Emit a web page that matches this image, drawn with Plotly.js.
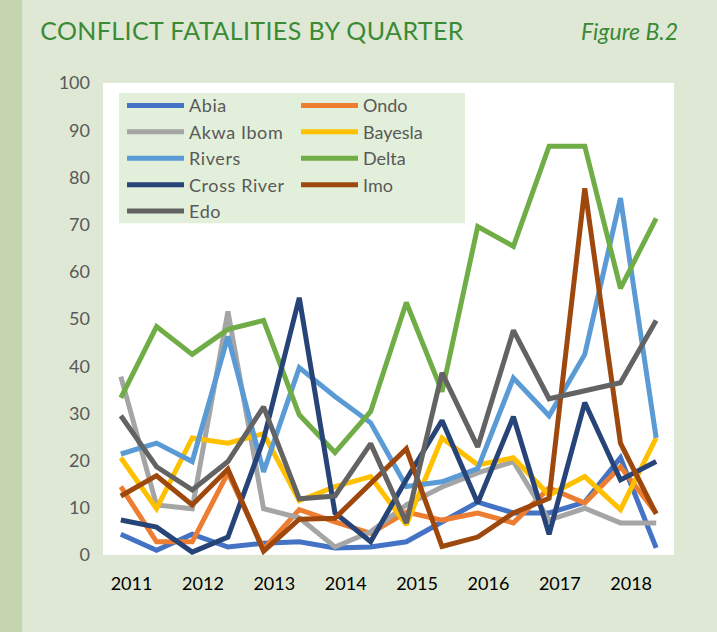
<!DOCTYPE html>
<html>
<head>
<meta charset="utf-8">
<script src="https://cdn.plot.ly/plotly-3.0.1.min.js"></script>
<style>
html,body{margin:0;padding:0;background:#dfe8d5;}
#chart{width:717px;height:632px;}
#chart .legendtext{letter-spacing:0.6px;}
#chart .gtitle{letter-spacing:0.4px;}
</style>
</head>
<body>
<div id="chart"></div>
<script>
// Half-year periods 2011 - 2018 (16 points)
var periods = ["2011a","2011b","2012a","2012b","2013a","2013b","2014a","2014b",
               "2015a","2015b","2016a","2016b","2017a","2017b","2018a","2018b"];
var yearLabels = ["2011","2012","2013","2014","2015","2016","2017","2018"];

var abia      = [4.4, 1, 4.4, 1.7, 2.5, 2.8, 1.5, 1.7, 2.8, 7, 11.2, 8.9, 8.9, 11.2, 20.6, 1.5];
var ondo      = [14.5, 2.8, 2.8, 17.4, 1.3, 9.6, 7, 4.6, 9.1, 7.4, 8.9, 6.8, 14.2, 11, 18.7, 8.9];
var akwaIbom  = [37.8, 10.6, 9.8, 51.6, 9.8, 7.9, 1.7, 4.9, 10.6, 14.4, 17.4, 19.8, 7.4, 9.9, 6.8, 6.8];
var bayesla   = [20.6, 9.8, 24.8, 23.7, 25.7, 11.5, 14.5, 16.6, 6.4, 24.8, 19.1, 20.6, 12.7, 16.6, 9.6, 24.8];
var rivers    = [21.4, 23.7, 19.8, 46.3, 17.6, 39.7, 33.6, 28, 14.5, 15.5, 18.3, 37.5, 29.5, 42.5, 75.6, 24.8];
var delta     = [33.3, 48.4, 42.5, 47.8, 49.7, 29.7, 21.7, 30.4, 53.5, 34.6, 69.6, 65.4, 86.6, 86.6, 56.5, 71.3];
var crossRiver= [7.4, 5.9, 0.6, 3.8, 24.5, 54.5, 8.9, 2.8, 16, 28.5, 11, 29.3, 4.4, 32.3, 15.9, 19.8];
var imo       = [12.5, 16.8, 10.6, 18.2, 0.8, 7.6, 7.8, 15.3, 22.5, 1.8, 3.8, 8.9, 12, 77.7, 23.7, 8.7];
var edo       = [29.5, 18.7, 13.8, 19.8, 31.4, 11.9, 12.5, 23.6, 6.8, 38.6, 22.9, 47.6, 33.1, 34.8, 36.5, 49.7];

var seriesNames  = ["Abia","Ondo","Akwa Ibom","Bayesla","Rivers","Delta","Cross River","Imo","Edo"];
var seriesValues = [abia, ondo, akwaIbom, bayesla, rivers, delta, crossRiver, imo, edo];
var seriesColors = ["#4472c4","#ed7d31","#a5a5a5","#ffc000","#5b9bd5","#70ad47","#264478","#9e480e","#636363"];
var seriesLegend = ["legend","legend2","legend","legend2","legend","legend2","legend","legend2","legend"];

var xIdx = periods.map(function(p, i){ return i; });

var traces = seriesNames.map(function(n, k){
  return {
    type: "scatter", mode: "lines", name: n,
    x: xIdx, y: seriesValues[k],
    line: {color: seriesColors[k], width: 5},
    legend: seriesLegend[k],
    hoverinfo: "name+y"
  };
});

var FONT = "Lato, 'Open Sans', sans-serif";
var legendCommon = {
  orientation: "v", bgcolor: "rgba(0,0,0,0)", borderwidth: 0,
  font: {family: FONT, size: 18, color: "#595959"},
  itemwidth: 57, tracegroupgap: 0, yanchor: "top", xanchor: "left", y: 0.991
};

var layout = {
  width: 717, height: 632,
  paper_bgcolor: "#dfe8d5", plot_bgcolor: "#ffffff",
  margin: {l: 103, r: 43, t: 83, b: 77},
  showlegend: true,
  title: {
    text: "CONFLICT FATALITIES BY QUARTER",
    font: {family: FONT, size: 25, color: "#3a8a36"},
    xref: "container", yref: "container", x: 0.056, xanchor: "left", y: 0.951, yanchor: "middle"
  },
  xaxis: {
    range: [-0.5, 15.5], showgrid: false, zeroline: false, showline: false,
    tickvals: yearLabels.map(function(y, i){ return 2 * i + 0.3; }),
    ticktext: yearLabels, ticks: "", ticklabelstandoff: 16,
    tickfont: {family: FONT, size: 18, color: "#000000"}, fixedrange: true
  },
  yaxis: {
    range: [0, 100], dtick: 10, showgrid: false, zeroline: false, showline: false,
    ticks: "", ticklabelstandoff: 12,
    tickfont: {family: FONT, size: 18, color: "#595959"}, fixedrange: true
  },
  legend: Object.assign({}, legendCommon, {x: 0.0333}),
  legend2: Object.assign({}, legendCommon, {x: 0.338}),
  shapes: [
    {type: "rect", xref: "paper", yref: "paper", x0: -0.1804, x1: -0.1419, y0: -0.2, y1: 1.2,
     fillcolor: "#c5d5ae", line: {width: 0}, layer: "below"},
    {type: "rect", xref: "paper", yref: "paper", x0: 0.028, x1: 0.634, y0: 0.703, y1: 0.979,
     fillcolor: "#e2efda", line: {width: 0}, layer: "below"}
  ],
  annotations: [
    {text: "<i>Figure B.2</i>", xref: "paper", yref: "paper",
     x: (680 - 103) / 571, xanchor: "right", y: 1 + (83 - 31) / 472, yanchor: "middle",
     showarrow: false, font: {family: FONT, size: 23, color: "#3a8a36", weight: 400}}
  ]
};

Plotly.newPlot("chart", traces, layout, {displayModeBar: false, staticPlot: true});
</script>
</body>
</html>
